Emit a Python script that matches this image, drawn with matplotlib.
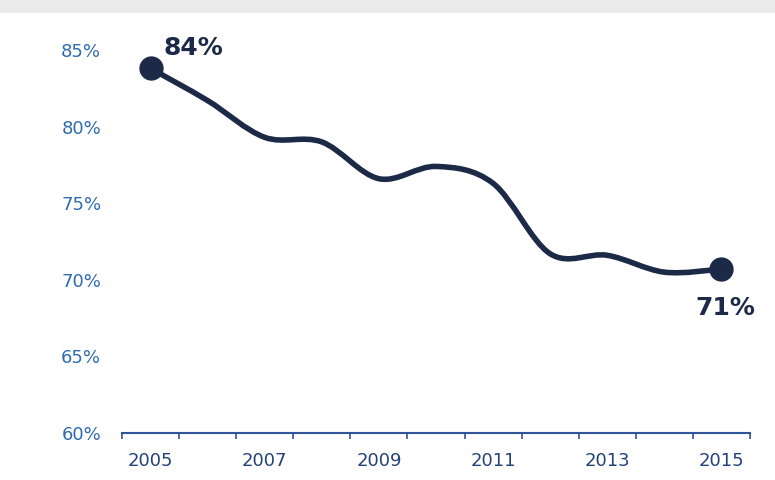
import numpy as np
import matplotlib.pyplot as plt
from matplotlib.path import Path
from matplotlib.patches import PathPatch, Rectangle

# data
years = ["2005", "2006", "2007", "2008", "2009", "2010",
         "2011", "2012", "2013", "2014", "2015"]
share = [83.8, 81.7, 79.3, 79.0, 76.6, 77.4, 76.3, 71.7, 71.6, 70.5, 70.7]
end_labels = ["84%", "71%"]

NAVY = "#1c2a48"
AXIS_BLUE = "#2f5597"
XLAB = "#24427a"
YLAB = "#2f6bb0"


def smooth_path(x, y, t=1/6):
    # Catmull-Rom style bezier path through the points (like a smoothed Excel line)
    verts = [(x[0], y[0])]
    codes = [Path.MOVETO]
    n = len(x)
    for i in range(n - 1):
        x0, y0 = (x[i - 1], y[i - 1]) if i > 0 else (x[i], y[i])
        x3, y3 = (x[i + 2], y[i + 2]) if i + 2 < n else (x[i + 1], y[i + 1])
        c1 = (x[i] + (x[i + 1] - x0) * t, y[i] + (y[i + 1] - y0) * t)
        c2 = (x[i + 1] - (x3 - x[i]) * t, y[i + 1] - (y3 - y[i]) * t)
        verts += [c1, c2, (x[i + 1], y[i + 1])]
        codes += [Path.CURVE4] * 3
    return Path(verts, codes)


plt.rcParams['font.family'] = ['DejaVu Sans']

fig = plt.figure(figsize=(7.75, 4.8), dpi=100)
ax = fig.add_axes([0.1574, 0.0979, 0.9677 - 0.1574, 0.8958 - 0.0979])

# faded grey header strip from the source page
fig.patches.append(Rectangle((0, 0.972), 1, 0.028, transform=fig.transFigure,
                             facecolor="#ebebeb", edgecolor="none"))

x = np.arange(len(years))
ax.add_patch(PathPatch(smooth_path(x, share), facecolor="none", edgecolor=NAVY,
                       lw=4.0, capstyle="round", joinstyle="round", zorder=3))
ax.plot([x[0], x[-1]], [share[0], share[-1]], "o", color=NAVY, ms=16.5, zorder=4)

ax.annotate(end_labels[0], (x[0], share[0]), xytext=(9, 15), textcoords="offset points",
            fontsize=18, fontweight="bold", color=NAVY, ha="left", va="center")
ax.annotate(end_labels[-1], (x[-1], share[-1]), xytext=(3, -28), textcoords="offset points",
            fontsize=18, fontweight="bold", color=NAVY, ha="center", va="center")

ax.set_xlim(-0.5, len(years) - 0.5)
ax.set_ylim(60, 85)
ax.set_yticks([60, 65, 70, 75, 80, 85])
ax.set_yticklabels([f"{v}%" for v in [60, 65, 70, 75, 80, 85]])
ax.set_xticks(x[::2])
ax.set_xticklabels(years[::2])
ax.set_xticks(np.arange(-0.5, len(years)), minor=True)

for s in ["top", "right", "left"]:
    ax.spines[s].set_visible(False)
ax.spines["bottom"].set_color(AXIS_BLUE)
ax.spines["bottom"].set_linewidth(1.5)

ax.tick_params(axis="x", which="major", length=0, pad=14, labelsize=13, labelcolor=XLAB)
ax.tick_params(axis="x", which="minor", length=4, width=1.2, color=AXIS_BLUE, direction="out")
ax.tick_params(axis="y", length=0, pad=15, labelsize=13, labelcolor=YLAB)

fig.savefig("out.png", dpi=100)
